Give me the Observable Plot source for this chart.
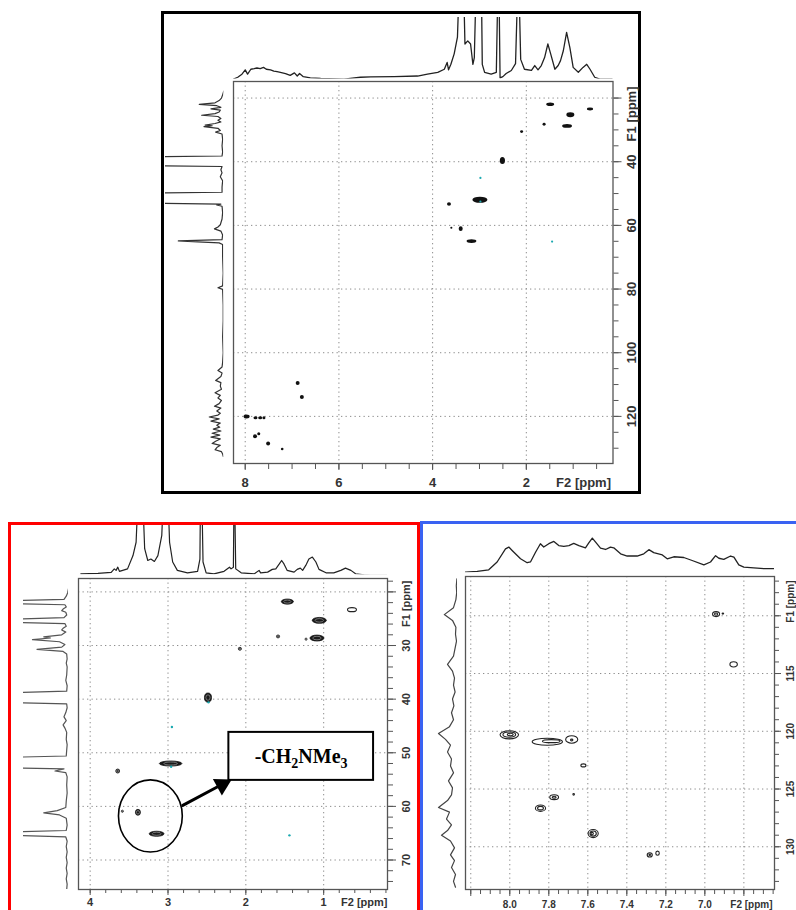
<!DOCTYPE html>
<html><head><meta charset="utf-8">
<script src="https://cdn.jsdelivr.net/npm/d3@7"></script>
<script src="https://cdn.jsdelivr.net/npm/@observablehq/plot@0.6"></script>
<style>
html,body{margin:0;padding:0;background:#fff;}
#root{position:relative;width:796px;height:910px;overflow:hidden;background:#fff;font-family:"Liberation Sans",Arial,sans-serif;}
.box{position:absolute;box-sizing:border-box;}
</style></head><body><div id="root"></div>
<script>
// ---------------- DATA ----------------
// Panel A: full HSQC overview. 1D traces as [ppm, relative intensity] (1 = top of the projection strip)
const aF2Trace = [[8.25,0.0],[8.16,0.03],[8.07,0.08],[8.00,0.15],[7.95,0.08],[7.88,0.16],[7.81,0.17],[7.75,0.18],[7.68,0.17],[7.61,0.19],[7.55,0.16],[7.46,0.15],[7.39,0.13],[7.32,0.12],[7.25,0.11],[7.14,0.09],[7.04,0.06],[6.95,0.10],[6.89,0.05],[6.84,0.09],[6.76,0.04],[6.61,0.02],[6.39,0.01],[5.89,0.0],[5.54,0.03],[5.32,0.035],[4.82,0.04],[4.32,0.05],[4.11,0.08],[3.89,0.11],[3.75,0.16],[3.69,0.27],[3.66,0.15],[3.61,0.24],[3.54,0.41],[3.47,0.68],[3.43,1.6],[3.34,1.6],[3.31,0.57],[3.25,0.62],[3.19,0.57],[3.14,0.24],[3.11,0.35],[3.07,1.6],[2.96,1.6],[2.94,0.24],[2.89,0.11],[2.75,0.08],[2.64,0.11],[2.605,1.6],[2.585,1.6],[2.56,0.02],[2.50,0.04],[2.43,0.09],[2.32,0.14],[2.23,0.25],[2.18,1.6],[2.16,1.6],[2.12,0.32],[2.04,0.16],[1.89,0.14],[1.82,0.22],[1.75,0.15],[1.68,0.22],[1.61,0.35],[1.54,0.57],[1.48,0.41],[1.39,0.16],[1.32,0.22],[1.27,0.30],[1.21,0.46],[1.14,0.76],[1.07,0.51],[1.00,0.19],[0.89,0.11],[0.79,0.19],[0.71,0.24],[0.64,0.16],[0.54,0.03],[0.43,0.0],[0.14,0.0]];
const aF1Trace = [[17.8,0],[19,0.02],[20,0.04],[20.8,0.08],[21.5,0.15],[22.0,0.42],[22.4,0.12],[22.9,0.05],[23.4,0.22],[23.8,0.06],[24.4,0.08],[24.9,0.15],[25.4,0.38],[25.8,0.1],[26.4,0.05],[27.0,0.1],[27.5,0.05],[28.0,0.15],[28.5,0.32],[28.7,0.2],[29.0,0.34],[29.5,0.1],[30.2,0.06],[30.7,0.14],[31.3,0.03],[33,0.02],[35,0.03],[37,0.02],[38.2,0.03],[38.5,1.6],[41.2,1.6],[41.5,0.03],[42.5,0.05],[43.5,0.03],[44.7,0.06],[46,0.02],[48,0.03],[49.6,0.03],[49.9,1.6],[53.0,1.6],[53.3,0.05],[53.6,0.12],[54,0.03],[56,0.02],[58,0.03],[59.8,0.06],[60.5,0.1],[61.1,0.16],[61.8,0.05],[63,0.02],[64.5,0.03],[64.9,0.78],[65.2,0.45],[65.5,0.08],[66,0.02],[70,0.02],[75,0.01],[79,0.02],[79.6,0.1],[80.1,0.02],[85,0.01],[90,0.01],[95,0.02],[100,0.01],[103,0.02],[104.5,0.03],[105.6,0.1],[106.4,0.03],[107.5,0.05],[108.7,0.14],[109.4,0.05],[110.5,0.06],[111.5,0.04],[112.6,0.15],[113.4,0.06],[114.2,0.1],[115,0.04],[116,0.08],[116.8,0.16],[117.4,0.05],[118.3,0.12],[119,0.06],[119.6,0.1],[120.2,0.25],[120.8,0.08],[121.5,0.22],[122.1,0.06],[122.8,0.12],[123.4,0.07],[124,0.18],[124.6,0.05],[125.3,0.2],[125.9,0.07],[126.5,0.22],[127.1,0.06],[127.8,0.14],[128.5,0.2],[129.1,0.06],[129.8,0.12],[130.5,0.15],[131.1,0.04],[131.8,0.02],[132.6,0.01]];
// cross peaks: [F2 ppm, F1 ppm, F2 linewidth ppm, F1 linewidth ppm]
const aPeaks = [[1.48,22.1,0.17,1.1],[0.63,23.6,0.13,0.9],[1.05,25.4,0.17,1.5],[1.61,28.4,0.065,0.9],[1.12,28.9,0.21,1.25],[2.09,30.7,0.065,0.9],[2.50,39.8,0.11,2.2],[2.98,52.1,0.32,1.9],[3.64,53.4,0.085,1.1],[3.59,60.9,0.045,0.6],[3.39,61.2,0.085,1.5],[3.16,65.1,0.21,1.25],[6.87,109.7,0.085,1.25],[6.78,114.1,0.085,1.25],[7.96,120.2,0.13,1.25],[7.77,120.6,0.085,0.95],[7.67,120.6,0.085,0.95],[7.59,120.6,0.065,0.95],[7.78,126.4,0.085,1.25],[7.70,125.6,0.065,0.95],[7.50,128.7,0.085,1.25],[7.20,130.4,0.055,0.8]];
const aWeak = [[2.98,45.1],[2.98,52.5],[1.45,65.1]];

// Panel B: aliphatic expansion
const bF2Trace = [[4.12,0.02],[3.90,0.03],[3.73,0.05],[3.69,0.12],[3.667,0.09],[3.645,0.155],[3.624,0.07],[3.52,0.12],[3.45,0.39],[3.41,0.66],[3.385,1.6],[3.325,1.6],[3.30,0.53],[3.26,0.29],[3.22,0.32],[3.175,0.27],[3.13,0.39],[3.08,0.8],[3.06,1.6],[3.00,1.6],[2.98,0.66],[2.94,0.26],[2.88,0.09],[2.75,0.04],[2.62,0.07],[2.59,0.32],[2.583,1.6],[2.565,1.6],[2.55,0.26],[2.51,0.04],[2.41,0.02],[2.28,0.07],[2.21,0.155],[2.19,0.12],[2.16,0.155],[2.152,1.6],[2.144,1.6],[2.13,0.12],[2.06,0.04],[1.89,0.02],[1.83,0.09],[1.81,0.04],[1.72,0.054],[1.66,0.11],[1.615,0.12],[1.57,0.22],[1.54,0.29],[1.51,0.22],[1.47,0.09],[1.38,0.054],[1.34,0.11],[1.30,0.135],[1.27,0.09],[1.23,0.19],[1.19,0.32],[1.145,0.36],[1.10,0.26],[1.06,0.11],[0.97,0.04],[0.87,0.04],[0.78,0.09],[0.72,0.135],[0.65,0.09],[0.59,0.02],[0.48,0.0],[0.40,-0.01],[0.18,-0.01]];
const bF1Trace = [[19.4,0.0],[20.2,0.02],[20.8,0.05],[21.4,0.1],[21.7,1.6],[22.1,1.6],[22.4,0.08],[22.8,0.05],[23.2,0.12],[23.5,0.15],[23.8,0.06],[24.3,0.04],[24.8,0.1],[25.2,1.6],[25.6,1.6],[25.9,0.08],[26.4,0.05],[26.8,0.12],[27.1,0.15],[27.5,0.06],[28.0,0.15],[28.4,0.55],[28.6,0.4],[28.9,0.8],[29.3,0.2],[29.8,0.08],[30.3,0.15],[30.7,0.7],[31.1,0.12],[31.6,0.04],[32.5,0.03],[33.3,0.05],[34,0.03],[35.5,0.04],[36.5,0.06],[37.5,0.03],[38.5,0.04],[38.9,1.6],[40.6,1.6],[40.9,0.04],[41.6,0.03],[42.5,0.06],[43.3,0.1],[44,0.05],[44.8,0.12],[45.4,0.08],[46.2,0.04],[47.5,0.05],[48.5,0.03],[49.5,0.04],[50.6,0.05],[50.9,1.6],[52.8,1.6],[53.0,0.1],[53.4,0.3],[53.7,0.06],[54.5,0.03],[56,0.04],[57.5,0.03],[59,0.05],[60.2,0.06],[60.8,0.25],[61.2,0.55],[61.6,0.2],[62.2,0.05],[63.5,0.03],[64.5,0.05],[64.85,1.6],[65.3,1.6],[65.7,0.06],[66.5,0.03],[67.5,0.05],[68.5,0.03],[69.5,0.05],[70.5,0.03],[71.5,0.05],[72.5,0.03],[73.5,0.05],[74.5,0.03],[75.5,0.04]];
const bPeaks = [[1.46,21.9,0.155,0.95],[1.05,25.4,0.18,1.1],[1.58,28.4,0.04,0.55],[1.22,28.9,0.026,0.4],[1.08,28.7,0.18,1.1],[2.07,30.7,0.04,0.55],[2.48,39.8,0.09,1.7],[2.96,52.1,0.29,0.95],[3.64,53.5,0.05,0.75],[3.58,61.0,0.026,0.4],[3.38,61.2,0.064,1.1],[3.14,65.2,0.19,0.95]];
const bOpen = [[0.63,23.4,0.115,0.75]];
const bWeak = [[2.48,40.6],[2.95,45.2],[2.96,52.6],[1.44,65.4]];
// annotation (ppm coordinates): ellipse bounds, arrow, label box, label
const bCircle = [[3.63,2.81,55.15,68.6]];
const bArrow = [[2.81,59.8,2.24,55.4]];
const bBox = [[2.218,0.359,46.2,55.15]];
const bLabel = [[1.29,50.65,"-CH2NMe3"]];

// Panel C: aromatic expansion
const cF2Trace = [[8.227,0.02],[8.167,0.04],[8.108,0.08],[8.065,0.29],[8.022,0.64],[8.005,0.69],[7.988,0.6],[7.945,0.375],[7.911,0.27],[7.894,0.29],[7.868,0.55],[7.843,0.78],[7.826,0.69],[7.80,0.78],[7.774,0.84],[7.749,0.73],[7.723,0.71],[7.697,0.73],[7.672,0.79],[7.646,0.73],[7.612,0.67],[7.595,0.8],[7.577,0.93],[7.56,0.82],[7.535,0.66],[7.509,0.625],[7.484,0.69],[7.467,0.67],[7.432,0.51],[7.398,0.45],[7.347,0.45],[7.313,0.51],[7.287,0.62],[7.262,0.54],[7.218,0.48],[7.193,0.375],[7.159,0.43],[7.108,0.41],[7.065,0.33],[7.005,0.21],[6.971,0.29],[6.945,0.46],[6.928,0.39],[6.903,0.36],[6.868,0.45],[6.851,0.42],[6.826,0.21],[6.80,0.15],[6.749,0.13],[6.697,0.11],[6.646,0.11]];
const cF1Trace = [[106.8,0.03],[107.4,0.06],[108.0,0.04],[108.6,0.08],[109.3,0.2],[109.9,0.66],[110.4,0.25],[111.0,0.08],[111.6,0.1],[112.2,0.05],[112.8,0.12],[113.5,0.2],[114.2,0.5],[114.8,0.25],[115.4,0.15],[116.0,0.2],[116.6,0.12],[117.2,0.25],[117.8,0.18],[118.4,0.3],[119.0,0.2],[119.6,0.4],[120.2,0.95],[120.7,0.6],[121.2,0.35],[121.8,0.5],[122.4,0.3],[123.0,0.35],[123.6,0.2],[124.3,0.45],[124.9,0.25],[125.5,0.3],[126.0,0.5],[126.6,0.95],[127.0,0.4],[127.6,0.55],[128.1,0.3],[128.6,0.5],[129.0,0.8],[129.5,0.35],[130.1,0.15],[130.7,0.35],[131.2,0.15],[131.8,0.3],[132.4,0.1],[133.0,0.2],[133.5,0.1]];
// contour levels: [F2 ppm, F1 ppm, F2 extent, F1 extent]
const cContours = [[6.94,109.9,0.036,0.43],[6.94,109.9,0.016,0.2],[6.905,109.85,0.008,0.1],[6.85,114.25,0.038,0.45],[8.00,120.35,0.095,0.7],[8.00,120.33,0.065,0.45],[7.995,120.33,0.03,0.22],[7.805,120.95,0.155,0.6],[7.785,120.9,0.09,0.26],[7.68,120.75,0.062,0.65],[7.68,120.8,0.012,0.15],[7.62,123.0,0.026,0.26],[7.77,125.75,0.045,0.42],[7.77,125.75,0.02,0.17],[7.67,125.5,0.008,0.15],[7.84,126.7,0.052,0.55],[7.84,126.7,0.03,0.3],[7.57,128.9,0.052,0.7],[7.57,128.9,0.032,0.45],[7.575,128.9,0.012,0.2],[7.28,130.75,0.026,0.35],[7.28,130.75,0.008,0.1],[7.24,130.6,0.018,0.35]];

// axis ticks / labels
const aXLabels = [8,6,4,2], aYLabels = [40,60,80,100,120], aGridY = [20,40,60,80,100,120];
const bXLabels = [4,3,2,1], bYLabels = [30,40,50,60,70], bGridY = [20,30,40,50,60,70];
const cXLabels = [8.0,7.8,7.6,7.4,7.2,7.0], cGridX = [8.2,8.0,7.8,7.6,7.4,7.2,7.0,6.8], cYLabels = [115,120,125,130], cGridY = [110,115,120,125,130];
const f2Title = "F2 [ppm]", f1Title = "F1 [ppm]";

// ---------------- DRAWING ----------------
const root = document.getElementById("root");
const rng = (a, b, s) => d3.range(Math.round(a / s), Math.round(b / s) + 1).map(k => +(k * s).toFixed(3));
function place(node, left, top) {
  node.style.position = "absolute"; node.style.left = left + "px"; node.style.top = top + "px";
  node.style.background = "transparent"; node.style.maxWidth = "none";
  root.appendChild(node);
}
function box(l, t, w, h, color) {
  const d = document.createElement("div"); d.className = "box";
  Object.assign(d.style, {left: l + "px", top: t + "px", width: w + "px", height: h + "px", border: "3px solid " + color});
  root.appendChild(d);
}
const ell = (data, k, opts) => Plot.rect(data, {
  x1: d => d[0] + d[2] * k / 2, x2: d => d[0] - d[2] * k / 2,
  y1: d => d[1] - d[3] * k / 2, y2: d => d[1] + d[3] * k / 2, rx: 100, ry: 100, ...opts});

function spectrumTop(data, c) {
  const mb = 2;
  const svg = Plot.plot({
    width: c.fx2 - c.fx1, height: c.y0 - c.y1 + mb,
    marginLeft: 0, marginRight: 0, marginTop: 0, marginBottom: mb,
    x: {domain: c.xDom, axis: null}, y: {domain: [0, 1], axis: null},
    style: {background: "transparent"},
    marks: [Plot.line(data, {x: d => d[0], y: d => d[1], stroke: c.color, strokeWidth: c.sw, clip: true})]
  });
  place(svg, c.fx1, c.y1);
}
function spectrumLeft(data, c) {
  const mr = 2;
  const svg = Plot.plot({
    width: c.x0 - c.x1 + mr, height: c.fy2 - c.fy1,
    marginLeft: 0, marginRight: mr, marginTop: 0, marginBottom: 0,
    x: {domain: [0, 1], reverse: true, axis: null}, y: {domain: c.yDom, reverse: true, axis: null},
    style: {background: "transparent"},
    marks: [Plot.line(data, {x: d => d[1], y: d => d[0], stroke: c.color, strokeWidth: c.sw, clip: true})]
  });
  place(svg, c.x1, c.fy1);
}
function mainPanel(c, extra) {
  const ml = 2, mt = 2;
  const fw = c.fx2 - c.fx1, fh = c.fy2 - c.fy1;
  const txt = {fill: "#333", fontSize: c.fs, fontWeight: "bold"};
  const grid = {stroke: "#8c8c8c", strokeOpacity: 1, strokeDasharray: "1.3,3.2", strokeWidth: 1};
  const svg = Plot.plot({
    width: fw + ml + c.mr, height: fh + mt + c.mb,
    marginLeft: ml, marginTop: mt, marginRight: c.mr, marginBottom: c.mb,
    x: {domain: c.xDom}, y: {domain: c.yDom, reverse: true},
    style: {background: "transparent", fontFamily: "'Liberation Sans', Arial, sans-serif", fontWeight: "bold", fontSize: c.fs + "px"},
    marks: [
      Plot.gridX(c.gridX, grid),
      Plot.gridY(c.gridY, grid),
      Plot.frame({stroke: "#555", strokeWidth: 1.3}),
      Plot.axisX(c.xMinor, {anchor: "bottom", tickSize: c.xMinorSize, fill: "none", stroke: "#555", label: null}),
      Plot.axisX(c.xMajor, {anchor: "bottom", tickSize: c.xMajorSize, fill: "none", stroke: "#555", label: null}),
      Plot.axisX(c.xLabels, {anchor: "bottom", tickSize: 0, tickPadding: c.xPad, label: null, tickFormat: c.xFormat, ...txt}),
      Plot.axisY(c.yMinor, {anchor: "right", tickSize: c.yMinorSize, fill: "none", stroke: "#555", label: null}),
      Plot.axisY(c.yMajor, {anchor: "right", tickSize: c.yMajorSize, fill: "none", stroke: "#555", label: null}),
      Plot.text(c.yLabels, {y: d => d, text: d => String(d), frameAnchor: "right", dx: c.ydx, rotate: -90, textAnchor: "middle", lineAnchor: "middle", ...txt}),
      Plot.text([f2Title], {text: d => d, frameAnchor: "bottom-right", dx: c.f2dx, dy: c.xPad, textAnchor: "end", lineAnchor: "top", ...txt}),
      Plot.text([f1Title], {text: d => d, frameAnchor: "top-right", dx: c.ydx, dy: c.f1dy, rotate: -90, textAnchor: "end", lineAnchor: "middle", ...txt}),
      ...extra
    ]
  });
  place(svg, c.fx1 - ml, c.fy1 - mt);
  return svg;
}

// ---- Panel A ----
box(161, 11, 480, 483, "#000");
const A = {fx1: 233, fx2: 612.5, fy1: 81, fy2: 463, xDom: [8.25, 0.15], yDom: [14.8, 134.8], fs: 13, mr: 32, mb: 30,
  gridX: aXLabels, gridY: aGridY, xMinor: rng(0.5, 8, 0.5), xMinorSize: 6, xMajor: aXLabels, xMajorSize: 7,
  xLabels: aXLabels, xPad: 14, xFormat: d => String(d), yMinor: rng(20, 130, 5), yMinorSize: 5, yMajor: aGridY, yMajorSize: 8,
  yLabels: aYLabels, ydx: 19, f2dx: -2, f1dy: 5};
mainPanel(A, [
  ell(aPeaks, 1, {fill: "#111"}),
  Plot.dot(aWeak, {x: d => d[0], y: d => d[1], r: 1.1, fill: "#1aa9b0"})
]);
spectrumTop(aF2Trace, {fx1: A.fx1, fx2: A.fx2, y1: 16.7, y0: 78.3, xDom: A.xDom, color: "#222", sw: 1.3});
spectrumLeft(aF1Trace, {x1: 165, x0: 223.3, fy1: A.fy1, fy2: A.fy2, yDom: A.yDom, color: "#333", sw: 1.2});

// ---- Panel B ----
box(8, 522, 412, 420, "#ff0000");
const B = {fx1: 78, fx2: 387, fy1: 578, fy2: 889, xDom: [4.15, 0.18], yDom: [17.5, 75.5], fs: 11, mr: 30, mb: 21,
  gridX: bXLabels, gridY: bGridY, xMinor: rng(0.2, 4, 0.2), xMinorSize: 4, xMajor: bXLabels, xMajorSize: 6,
  xLabels: bXLabels, xPad: 9, xFormat: d => String(d), yMinor: rng(18, 74, 2), yMinorSize: 5, yMajor: bGridY, yMajorSize: 8,
  yLabels: bYLabels, ydx: 19, f2dx: 0, f1dy: 2};
const bSvg = mainPanel(B, [
  ell(bPeaks, 1, {fill: "#1a1a1a", stroke: "#111", strokeWidth: 0.8}),
  ell(bPeaks, 0.6, {fill: "none", stroke: "#9a9a9a", strokeWidth: 0.7}),
  ell(bOpen, 1, {fill: "#fff", stroke: "#222", strokeWidth: 1.1}),
  Plot.dot(bWeak, {x: d => d[0], y: d => d[1], r: 1.2, fill: "#1aa9b0"}),
  Plot.rect(bCircle, {x1: d => d[0], x2: d => d[1], y1: d => d[2], y2: d => d[3], rx: 200, ry: 200, fill: "none", stroke: "#000", strokeWidth: 1.6}),
  Plot.arrow(bArrow, {x1: d => d[0], y1: d => d[1], x2: d => d[2], y2: d => d[3], stroke: "#000", strokeWidth: 3, headLength: 0, insetEnd: 6}),
  Plot.dot(bArrow, {x: d => d[2], y: d => d[3], symbol: "triangle", r: 7, rotate: 61.5, fill: "#000", stroke: "none", dx: -5, dy: 3}),
  Plot.rect(bBox, {x1: d => d[0], x2: d => d[1], y1: d => d[2], y2: d => d[3], fill: "#fff", stroke: "#000", strokeWidth: 2}),
  Plot.text(bLabel, {x: d => d[0], y: d => d[1], text: d => d[2], fontFamily: "'Liberation Serif', 'Times New Roman', serif", fontWeight: "bold", fontSize: 20, fill: "#000", textAnchor: "middle", lineAnchor: "middle"})
]);
// chemical subscripts for the label
bSvg.querySelectorAll("text").forEach(t => {
  if (t.textContent !== bLabel[0][2]) return;
  const raw = t.textContent;
  while (t.firstChild) t.removeChild(t.firstChild);
  let sub = false;
  raw.match(/\d+|\D+/g).forEach(p => {
    const ts = document.createElementNS("http://www.w3.org/2000/svg", "tspan");
    ts.textContent = p;
    if (/\d/.test(p)) { ts.setAttribute("dy", "5"); ts.setAttribute("font-size", "14"); sub = true; }
    else if (sub) { ts.setAttribute("dy", "-5"); sub = false; }
    t.appendChild(ts);
  });
});
spectrumTop(bF2Trace, {fx1: B.fx1, fx2: B.fx2, y1: 525, y0: 574.3, xDom: B.xDom, color: "#222", sw: 1.2});
spectrumLeft(bF1Trace, {x1: 23.3, x0: 68.3, fy1: B.fy1, fy2: B.fy2, yDom: B.yDom, color: "#555", sw: 1.2});

// ---- Panel C ----
box(420, 521, 420, 420, "#3a62f2");
const C = {fx1: 465, fx2: 774, fy1: 576, fy2: 889, xDom: [8.227, 6.643], yDom: [106.6, 133.7], fs: 10, mr: 24, mb: 21,
  gridX: cGridX, gridY: cGridY, xMinor: rng(6.65, 8.2, 0.05), xMinorSize: 5, xMajor: cGridX, xMajorSize: 7,
  xLabels: cXLabels, xPad: 11, xFormat: d3.format(".1f"), yMinor: rng(107, 133, 1), yMinorSize: 4, yMajor: cGridY, yMajorSize: 6,
  yLabels: cYLabels, ydx: 16, f2dx: -2, f1dy: 4};
mainPanel(C, [
  ell(cContours, 1, {fill: "none", stroke: "#222", strokeWidth: 1.1})
]);
spectrumTop(cF2Trace, {fx1: C.fx1, fx2: C.fx2, y1: 535, y0: 572.3, xDom: C.xDom, color: "#222", sw: 1.3});
spectrumLeft(cF1Trace, {x1: 436.7, x0: 456.7, fy1: C.fy1, fy2: C.fy2, yDom: C.yDom, color: "#444", sw: 1.2});
</script></body></html>
